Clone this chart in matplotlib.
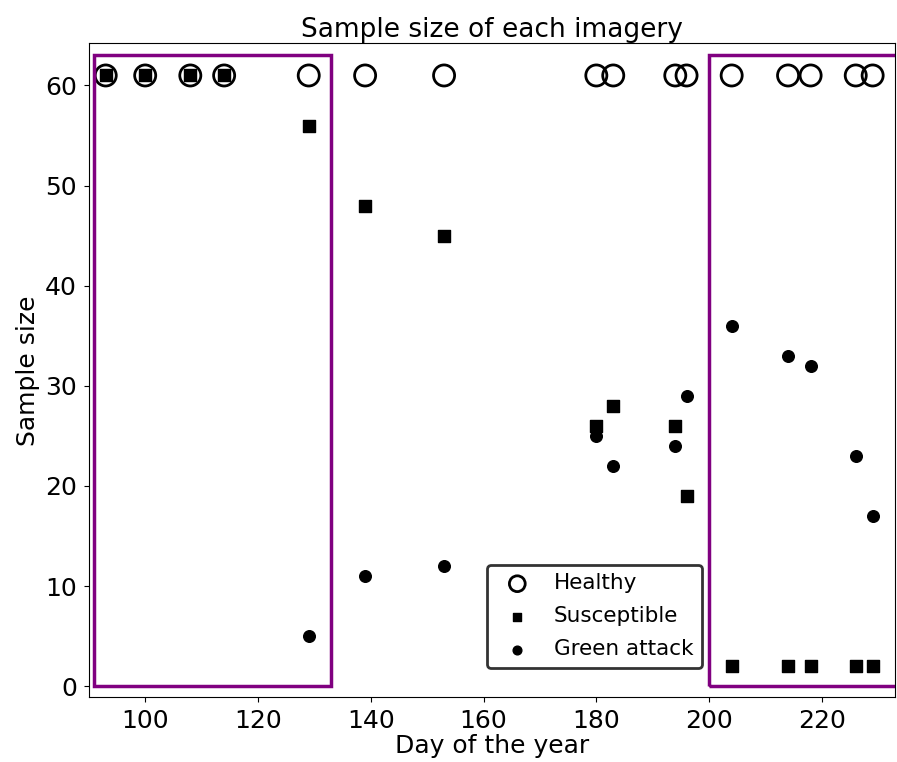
import matplotlib
matplotlib.use("Agg")
import matplotlib.pyplot as plt
from matplotlib.patches import Rectangle

# day of year of each imagery
days = [93, 100, 108, 114, 129, 139, 153, 180, 183, 194, 196, 204, 214, 218, 226, 229]
healthy = [61] * 16
susceptible = [61, 61, 61, 61, 56, 48, 45, 26, 28, 26, 19, 2, 2, 2, 2, 2]
# green attack only from day 129 on
ga_days = [129, 139, 153, 180, 183, 194, 196, 204, 214, 218, 226, 229]
green_attack = [5, 11, 12, 25, 22, 24, 29, 36, 33, 32, 23, 17]

fig = plt.figure(figsize=(8.97, 7.62), dpi=100)
ax = fig.add_axes([0.099, 0.085, 0.899, 0.858])

ax.scatter(days, healthy, s=230, facecolors='none', edgecolors='black', linewidths=2, label='Healthy')
ax.scatter(days, susceptible, s=70, marker='s', color='black', label='Susceptible')
ax.scatter(ga_days, green_attack, s=70, marker='o', color='black', label='Green attack')

# periods highlighted
ax.add_patch(Rectangle((91, 0), 42, 63, fill=False, edgecolor='purple', linewidth=2.5))
ax.add_patch(Rectangle((200, 0), 40, 63, fill=False, edgecolor='purple', linewidth=2.5))

ax.set_xlim(90, 233)
ax.set_ylim(-1.1, 64.2)
ax.set_xticks([100, 120, 140, 160, 180, 200, 220])
ax.set_yticks([0, 10, 20, 30, 40, 50, 60])
ax.tick_params(labelsize=18, pad=5)
ax.set_xlabel("Day of the year", fontsize=18, labelpad=1)
ax.set_ylabel("Sample size", fontsize=18)
ax.set_title("Sample size of each imagery", fontsize=19, pad=3)

leg = ax.legend(loc='lower left', bbox_to_anchor=(0.494, 0.045), fontsize=15.5,
                edgecolor='#333333', framealpha=1, fancybox=True, markerscale=0.75,
                handletextpad=0.7, borderaxespad=0, labelspacing=0.6)
leg.get_frame().set_linewidth(2)

fig.savefig("out.png", dpi=100)
